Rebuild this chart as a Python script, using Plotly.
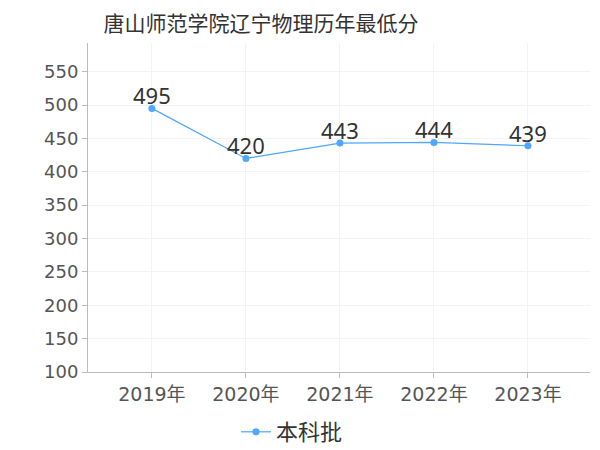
import plotly.graph_objects as go

years = ["2019年", "2020年", "2021年", "2022年", "2023年"]
scores = [495, 420, 443, 444, 439]
series_name = "本科批"
title = "唐山师范学院辽宁物理历年最低分"
y_ticks = [100, 150, 200, 250, 300, 350, 400, 450, 500, 550]

font_family = "DejaVu Sans, Noto Sans CJK SC, sans-serif"
cjk_family = "Noto Sans CJK SC, DejaVu Sans, sans-serif"
label_family = "Noto Sans, Noto Sans CJK SC, sans-serif"
color = "#4da6ff"

# page body has an 8px default margin, compensate in figure coordinates
OFF = 8
plot_top, plot_bottom = 43 - OFF, 372 - OFF
plot_left, plot_right = 88 - OFF, 590 - OFF
plot_h = plot_bottom - plot_top

fig = go.Figure()
fig.add_trace(go.Scatter(
    x=years, y=scores, mode="lines+markers", name=series_name,
    line=dict(color=color, width=1.2),
    marker=dict(color=color, size=7),
    cliponaxis=False,
))

for yr, v in zip(years, scores):
    fig.add_annotation(x=yr, y=v, text=str(v), showarrow=False,
                       yanchor="middle", yshift=13,
                       font=dict(size=22, color="#333333", family=label_family))

fig.update_layout(
    width=600, height=450,
    paper_bgcolor="white", plot_bgcolor="white",
    margin=dict(l=plot_left, r=600 - plot_right, t=plot_top, b=450 - plot_bottom, autoexpand=False),
    title=dict(text=title, x=(261 - OFF) / 600, xanchor="center", y=1 - (24 - OFF) / 450, yanchor="middle",
               font=dict(size=21, color="#333333", family=cjk_family)),
    font=dict(family=font_family, color="#555555"),
    showlegend=True,
    legend=dict(orientation="h", x=(292 - OFF - plot_left) / (plot_right - plot_left), xanchor="center",
                y=-(432 - 372) / plot_h, yanchor="middle", itemwidth=30,
                font=dict(size=22, color="#333333", family=cjk_family)),
    xaxis=dict(
        type="category", range=[-0.68, 4.66], automargin=False,
        showline=True, linecolor="#bbbbbb", linewidth=1,
        ticks="outside", ticklen=5, tickcolor="#bbbbbb",
        showgrid=True, gridcolor="#f3f3f3",
        tickfont=dict(size=19, color="#555555", family=font_family),
    ),
    yaxis=dict(
        range=[100, 593], tickvals=y_ticks, automargin=False,
        showline=True, linecolor="#bbbbbb", linewidth=1,
        ticks="outside", ticklen=5, tickcolor="#bbbbbb",
        showgrid=True, gridcolor="#f3f3f3", zeroline=False,
        tickfont=dict(size=18, color="#555555", family=font_family),
    ),
)

fig.write_html("out.html")
